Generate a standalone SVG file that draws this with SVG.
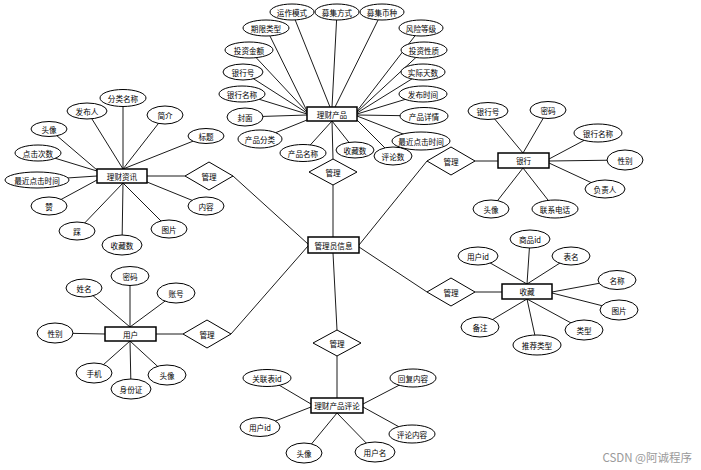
<svg xmlns="http://www.w3.org/2000/svg" width="701" height="470" viewBox="0 0 701 470">
<style>
.l line{stroke:#000;stroke-width:0.9}
ellipse{fill:#fff;stroke:#000;stroke-width:1}
.en{fill:#fff;stroke:#000;stroke-width:1.5}
polygon{fill:#fff;stroke:#000;stroke-width:1}
text{font-family:"Noto Sans CJK SC","Noto Sans",sans-serif;font-size:7.6px;text-anchor:middle;dominant-baseline:central;fill:#000}
.wm{font-size:11.5px;fill:#9a9a9a;text-anchor:end;dominant-baseline:auto}
</style>
<rect width="701" height="470" fill="#fff"/>
<g id="connectors" class="l">
<line x1="292" y1="12" x2="330" y2="107"/>
<line x1="337" y1="12" x2="332" y2="107"/>
<line x1="382" y1="12" x2="335" y2="107"/>
<line x1="266" y1="28" x2="307" y2="111"/>
<line x1="249" y1="50" x2="307" y2="112"/>
<line x1="243" y1="72" x2="307" y2="113"/>
<line x1="242" y1="94" x2="307" y2="114"/>
<line x1="245" y1="117" x2="307" y2="115"/>
<line x1="260" y1="139" x2="307" y2="120"/>
<line x1="303" y1="153" x2="332" y2="121"/>
<line x1="355" y1="150" x2="332" y2="121"/>
<line x1="393" y1="156" x2="357" y2="120"/>
<line x1="421" y1="141" x2="357" y2="116"/>
<line x1="424" y1="116" x2="357" y2="115"/>
<line x1="423" y1="94" x2="357" y2="114"/>
<line x1="423" y1="72" x2="357" y2="113"/>
<line x1="424" y1="50" x2="357" y2="112"/>
<line x1="421" y1="28" x2="357" y2="111"/>
<line x1="123" y1="98" x2="123" y2="169"/>
<line x1="87" y1="111" x2="123" y2="169"/>
<line x1="165" y1="115" x2="123" y2="169"/>
<line x1="206" y1="136" x2="123" y2="169"/>
<line x1="49" y1="129" x2="97" y2="170"/>
<line x1="38" y1="153" x2="97" y2="171"/>
<line x1="37" y1="180" x2="97" y2="176"/>
<line x1="49" y1="206" x2="97" y2="180"/>
<line x1="77" y1="231" x2="123" y2="183"/>
<line x1="122" y1="245" x2="123" y2="183"/>
<line x1="169" y1="229" x2="123" y2="183"/>
<line x1="206" y1="206" x2="147" y2="182"/>
<line x1="488" y1="111" x2="523" y2="153"/>
<line x1="548" y1="110" x2="523" y2="153"/>
<line x1="598" y1="133" x2="549" y2="159"/>
<line x1="625" y1="160" x2="549" y2="161"/>
<line x1="605" y1="189" x2="549" y2="163"/>
<line x1="555" y1="209" x2="523" y2="168"/>
<line x1="491" y1="209" x2="523" y2="168"/>
<line x1="478" y1="256" x2="527" y2="284"/>
<line x1="530" y1="239" x2="527" y2="284"/>
<line x1="571" y1="256" x2="527" y2="284"/>
<line x1="617" y1="280" x2="552" y2="292"/>
<line x1="619" y1="310" x2="552" y2="293"/>
<line x1="584" y1="330" x2="527" y2="299"/>
<line x1="537" y1="345" x2="527" y2="299"/>
<line x1="480" y1="327" x2="527" y2="299"/>
<line x1="84" y1="288" x2="130" y2="327"/>
<line x1="130" y1="276" x2="130" y2="327"/>
<line x1="176" y1="293" x2="130" y2="327"/>
<line x1="55" y1="333" x2="105" y2="334"/>
<line x1="94" y1="373" x2="130" y2="341"/>
<line x1="131" y1="389" x2="130" y2="341"/>
<line x1="167" y1="375" x2="130" y2="341"/>
<line x1="267" y1="378" x2="311" y2="404"/>
<line x1="413" y1="378" x2="363" y2="404"/>
<line x1="260" y1="427" x2="311" y2="407"/>
<line x1="412" y1="434" x2="363" y2="407"/>
<line x1="304" y1="453" x2="337" y2="413"/>
<line x1="375" y1="452" x2="337" y2="413"/>
<line x1="332" y1="121" x2="333" y2="159"/>
<line x1="333" y1="185" x2="333" y2="237"/>
<line x1="147" y1="176" x2="185" y2="176"/>
<line x1="233" y1="176" x2="308" y2="244"/>
<line x1="498" y1="161" x2="475" y2="161"/>
<line x1="427" y1="161" x2="359" y2="245"/>
<line x1="502" y1="292" x2="475" y2="292"/>
<line x1="427" y1="292" x2="359" y2="247"/>
<line x1="156" y1="334" x2="183" y2="334"/>
<line x1="231" y1="334" x2="308" y2="246"/>
<line x1="333" y1="253" x2="337" y2="330"/>
<line x1="337" y1="356" x2="337" y2="398"/>
</g>
<g id="admin"><rect class="en" x="308" y="237" width="51" height="16"/><text x="333.5" y="245">管理员信息</text></g>
<g id="product"><rect class="en" x="307" y="107" width="50" height="14"/><text x="332" y="114">理财产品</text></g>
<g id="news"><rect class="en" x="97" y="169" width="50" height="14"/><text x="122" y="176">理财资讯</text></g>
<g id="bank"><rect class="en" x="498" y="153" width="51" height="15"/><text x="523.5" y="160.5">银行</text></g>
<g id="fav"><rect class="en" x="502" y="284" width="50" height="15"/><text x="527" y="291.5">收藏</text></g>
<g id="user"><rect class="en" x="105" y="327" width="51" height="14"/><text x="130.5" y="334">用户</text></g>
<g id="comment"><rect class="en" x="311" y="398" width="52" height="15"/><text x="337" y="405.5">理财产品评论</text></g>
<g id="d1"><polygon points="333,159 357,172 333,185 309,172"/><text x="333" y="172">管理</text></g>
<g id="d2"><polygon points="209,162 233,176 209,190 185,176"/><text x="209" y="176">管理</text></g>
<g id="d3"><polygon points="451,147 475,161 451,175 427,161"/><text x="451" y="161">管理</text></g>
<g id="d4"><polygon points="451,278 475,292 451,306 427,292"/><text x="451" y="292">管理</text></g>
<g id="d5"><polygon points="207,320 231,334 207,348 183,334"/><text x="207" y="334">管理</text></g>
<g id="d6"><polygon points="337,330 361,343 337,356 313,343"/><text x="337" y="343">管理</text></g>
<g id="p1"><ellipse cx="292" cy="12" rx="22" ry="8"/><text x="292" y="12">运作模式</text></g>
<g id="p2"><ellipse cx="337" cy="12" rx="22" ry="8"/><text x="337" y="12">募集方式</text></g>
<g id="p3"><ellipse cx="382" cy="12" rx="22" ry="8"/><text x="382" y="12">募集币种</text></g>
<g id="p4"><ellipse cx="266" cy="28" rx="23" ry="8"/><text x="266" y="28">期限类型</text></g>
<g id="p5"><ellipse cx="249" cy="50" rx="24" ry="8"/><text x="249" y="50">投资金额</text></g>
<g id="p6"><ellipse cx="243" cy="72" rx="20" ry="8"/><text x="243" y="72">银行号</text></g>
<g id="p7"><ellipse cx="242" cy="94" rx="23" ry="8"/><text x="242" y="94">银行名称</text></g>
<g id="p8"><ellipse cx="245" cy="117" rx="18" ry="9"/><text x="245" y="117">封面</text></g>
<g id="p9"><ellipse cx="260" cy="139" rx="22" ry="9"/><text x="260" y="139">产品分类</text></g>
<g id="p10"><ellipse cx="303" cy="153" rx="23" ry="8.5"/><text x="303" y="153">产品名称</text></g>
<g id="p11"><ellipse cx="355" cy="150" rx="19" ry="8"/><text x="355" y="150">收藏数</text></g>
<g id="p12"><ellipse cx="393" cy="156" rx="19" ry="9"/><text x="393" y="156">评论数</text></g>
<g id="p13"><ellipse cx="421" cy="141" rx="29" ry="9"/><text x="421" y="141">最近点击时间</text></g>
<g id="p14"><ellipse cx="424" cy="116" rx="24" ry="8.5"/><text x="424" y="116">产品详情</text></g>
<g id="p15"><ellipse cx="423" cy="94" rx="24" ry="8"/><text x="423" y="94">发布时间</text></g>
<g id="p16"><ellipse cx="423" cy="72" rx="22" ry="8"/><text x="423" y="72">实际天数</text></g>
<g id="p17"><ellipse cx="424" cy="50" rx="23" ry="8"/><text x="424" y="50">投资性质</text></g>
<g id="p18"><ellipse cx="421" cy="28" rx="22" ry="8"/><text x="421" y="28">风险等级</text></g>
<g id="n1"><ellipse cx="123" cy="98" rx="23" ry="8.5"/><text x="123" y="98">分类名称</text></g>
<g id="n2"><ellipse cx="87" cy="111" rx="20" ry="8"/><text x="87" y="111">发布人</text></g>
<g id="n3"><ellipse cx="165" cy="115" rx="18" ry="9"/><text x="165" y="115">简介</text></g>
<g id="n4"><ellipse cx="49" cy="129" rx="18" ry="7.5"/><text x="49" y="129">头像</text></g>
<g id="n5"><ellipse cx="206" cy="136" rx="18" ry="7.5"/><text x="206" y="136">标题</text></g>
<g id="n6"><ellipse cx="38" cy="153" rx="23" ry="8"/><text x="38" y="153">点击次数</text></g>
<g id="n7"><ellipse cx="37" cy="180" rx="32" ry="8"/><text x="37" y="180">最近点击时间</text></g>
<g id="n8"><ellipse cx="49" cy="206" rx="18" ry="9"/><text x="49" y="206">赞</text></g>
<g id="n9"><ellipse cx="77" cy="231" rx="18" ry="9"/><text x="77" y="231">踩</text></g>
<g id="n10"><ellipse cx="122" cy="245" rx="20" ry="10"/><text x="122" y="245">收藏数</text></g>
<g id="n11"><ellipse cx="169" cy="229" rx="18" ry="9"/><text x="169" y="229">图片</text></g>
<g id="n12"><ellipse cx="206" cy="206" rx="18" ry="9"/><text x="206" y="206">内容</text></g>
<g id="b1"><ellipse cx="488" cy="111" rx="20" ry="8.5"/><text x="488" y="111">银行号</text></g>
<g id="b2"><ellipse cx="548" cy="110" rx="18" ry="8.5"/><text x="548" y="110">密码</text></g>
<g id="b3"><ellipse cx="598" cy="133" rx="24" ry="9"/><text x="598" y="133">银行名称</text></g>
<g id="b4"><ellipse cx="625" cy="160" rx="18" ry="10"/><text x="625" y="160">性别</text></g>
<g id="b5"><ellipse cx="605" cy="189" rx="20" ry="9"/><text x="605" y="189">负责人</text></g>
<g id="b6"><ellipse cx="555" cy="209" rx="23" ry="9"/><text x="555" y="209">联系电话</text></g>
<g id="b7"><ellipse cx="491" cy="209" rx="18" ry="9"/><text x="491" y="209">头像</text></g>
<g id="c1"><ellipse cx="478" cy="256" rx="20" ry="9"/><text x="478" y="256">用户id</text></g>
<g id="c2"><ellipse cx="530" cy="239" rx="20" ry="9"/><text x="530" y="239">商品id</text></g>
<g id="c3"><ellipse cx="571" cy="256" rx="19" ry="9"/><text x="571" y="256">表名</text></g>
<g id="c4"><ellipse cx="617" cy="280" rx="19" ry="9.5"/><text x="617" y="280">名称</text></g>
<g id="c5"><ellipse cx="619" cy="310" rx="19" ry="10"/><text x="619" y="310">图片</text></g>
<g id="c6"><ellipse cx="584" cy="330" rx="19" ry="10"/><text x="584" y="330">类型</text></g>
<g id="c7"><ellipse cx="537" cy="345" rx="24" ry="10"/><text x="537" y="345">推荐类型</text></g>
<g id="c8"><ellipse cx="480" cy="327" rx="19" ry="10"/><text x="480" y="327">备注</text></g>
<g id="u1"><ellipse cx="84" cy="288" rx="18" ry="9"/><text x="84" y="288">姓名</text></g>
<g id="u2"><ellipse cx="130" cy="276" rx="19" ry="9.5"/><text x="130" y="276">密码</text></g>
<g id="u3"><ellipse cx="176" cy="293" rx="19" ry="10"/><text x="176" y="293">账号</text></g>
<g id="u4"><ellipse cx="55" cy="333" rx="18" ry="10"/><text x="55" y="333">性别</text></g>
<g id="u5"><ellipse cx="94" cy="373" rx="18" ry="10"/><text x="94" y="373">手机</text></g>
<g id="u6"><ellipse cx="131" cy="389" rx="20" ry="10"/><text x="131" y="389">身份证</text></g>
<g id="u7"><ellipse cx="167" cy="375" rx="19" ry="10"/><text x="167" y="375">头像</text></g>
<g id="r1"><ellipse cx="267" cy="378" rx="24" ry="8.5"/><text x="267" y="378">关联表id</text></g>
<g id="r2"><ellipse cx="413" cy="378" rx="23" ry="9"/><text x="413" y="378">回复内容</text></g>
<g id="r3"><ellipse cx="260" cy="427" rx="20" ry="9.5"/><text x="260" y="427">用户id</text></g>
<g id="r4"><ellipse cx="412" cy="434" rx="23" ry="9"/><text x="412" y="434">评论内容</text></g>
<g id="r5"><ellipse cx="304" cy="453" rx="18" ry="10"/><text x="304" y="453">头像</text></g>
<g id="r6"><ellipse cx="375" cy="452" rx="20" ry="10"/><text x="375" y="452">用户名</text></g>
<text class="wm" x="692" y="462">CSDN @阿诚程序</text>
</svg>
